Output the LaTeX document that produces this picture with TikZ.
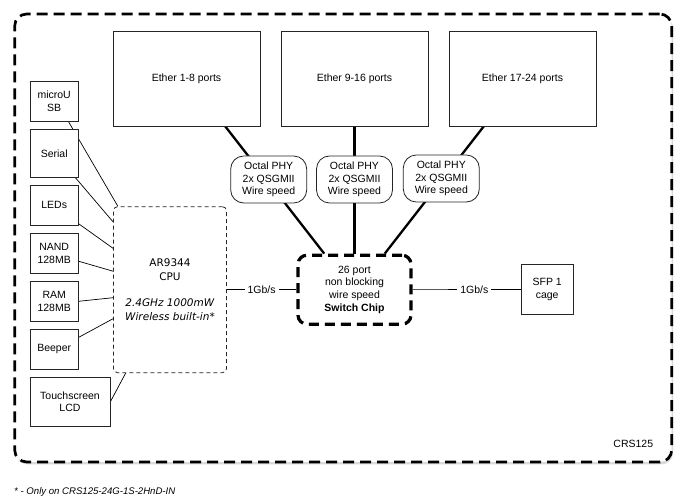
\documentclass[tikz,border=0pt]{standalone}
\usepackage{fontspec}
\setmainfont{Liberation Sans}
\newfontfamily\cpufont{DejaVu Sans}[ItalicFont={DejaVu Sans Oblique},BoldFont={DejaVu Sans Bold}]
\usetikzlibrary{shadows}
\pgfdeclarelayer{background}
\pgfsetlayers{background,main}
\begin{document}
\begin{tikzpicture}[x=1pt,y=-1pt,
    every node/.style={font=\fontsize{10.5}{12.6}\selectfont,align=center},
    box/.style={draw=black!85,line width=0.8pt,fill=white,inner sep=1pt},
    port/.style={box,minimum width=147pt,minimum height=95pt},
    side/.style={box,minimum width=48pt,minimum height=40pt},
    phy/.style={box,rounded corners=13pt,minimum width=76pt,minimum height=47pt},
    chip/.style={draw,fill=white,line width=3.2pt,rounded corners=9pt,dash pattern=on 10pt off 6pt,minimum width=113pt,minimum height=69pt},
    cpubox/.style={draw=black!85,fill=white,line width=0.8pt,rounded corners=4pt,dash pattern=on 4pt off 3pt,minimum width=113pt,minimum height=166pt,font=\cpufont\fontsize{10.5}{13.3}\selectfont},
    frame/.style={draw,fill=white,line width=2.7pt,rounded corners=12pt,dash pattern=on 11pt off 6pt,minimum width=657pt,minimum height=448pt,drop shadow={opacity=0.3,shadow xshift=1.5pt,shadow yshift=-2.5pt}},
    bus/.style={line width=2.3pt},
    wire/.style={line width=0.7pt},
    rate/.style={fill=white,inner sep=3pt}]
  \useasboundingbox (0,0) rectangle (686,502);
  % ports and PHYs
  \node[port] (e1) at (186.5,78.5) {Ether 1-8 ports};
  \node[port] (e2) at (354.5,78.5) {Ether 9-16 ports};
  \node[port] (e3) at (522.5,78.5) {Ether 17-24 ports};
  \node[phy] (p1) at (268.7,179.5) {Octal PHY\\2x QSGMII\\Wire speed};
  \node[phy] (p2) at (354.5,179.5) {Octal PHY\\2x QSGMII\\Wire speed};
  \node[phy] (p3) at (441.3,178.5) {Octal PHY\\2x QSGMII\\Wire speed};
  \node[chip] (sw) at (354.5,289.7) {26 port\\non blocking\\wire speed\\\textbf{Switch Chip}};
  \node[cpubox] (cpu) at (170,289.7) {AR9344\\CPU\\[13.3pt]\textit{2.4GHz 1000mW}\\\textit{Wireless built-in*}};
  \node[box,minimum width=52pt,minimum height=50pt] (sfp) at (547.2,289.5) {SFP 1\\cage};
  % peripherals
  \node[side] (usb) at (54.2,101.2) {microU\\SB};
  \node[side,minimum height=48pt] (serial) at (54.2,153.3) {Serial};
  \node[side] (leds) at (54.2,205.3) {LEDs};
  \node[side] (nand) at (54.2,253.3) {NAND\\128MB};
  \node[side] (ram) at (54.2,301.3) {RAM\\128MB};
  \node[side] (beep) at (54.2,349.3) {Beeper};
  \node[side,minimum width=80pt,minimum height=48.7pt] (lcd) at (70,401.7) {Touchscreen\\LCD};
  \node (model) at (633.3,444) {CRS125};
  \node[anchor=west,inner sep=0pt,font=\fontsize{9.6}{11}\selectfont\itshape] (note) at (14,491.7) {* - Only on CRS125-24G-1S-2HnD-IN};
  \begin{pgfonlayer}{background}
    \node[frame] (board) at (343.2,238) {};
    \draw[bus] (e1.-51.4) -- (sw.130);
    \draw[bus] (e2.south) -- (sw.north);
    \draw[bus] (e3.231.4) -- (sw.50);
    \draw[wire] (usb.-55) -- (cpu.122);
    \draw[wire] (serial.-49) -- (cpu.130);
    \draw[wire] (leds.-37) -- (cpu.144);
    \draw[wire] (nand.-18) -- (cpu.162);
    \draw[wire] (ram.east) -- (cpu.188);
    \draw[wire] (beep.26) -- (cpu.207);
    \draw[wire] (lcd.east) -- (cpu.242);
    \draw[wire] (cpu) -- node[rate]{1Gb/s} (sw);
    \draw[wire] (sw) -- node[rate,pos=.57]{1Gb/s} (sfp);
  \end{pgfonlayer}
\end{tikzpicture}
\end{document}
